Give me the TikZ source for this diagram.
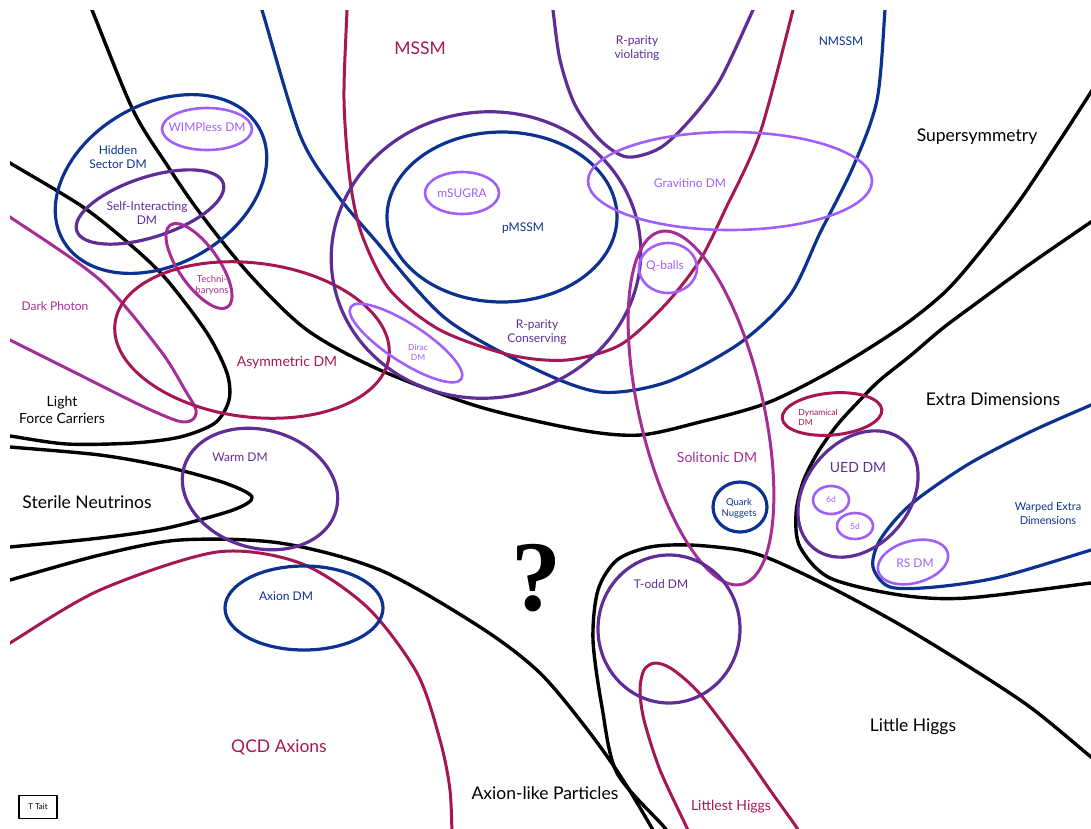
\documentclass[tikz,border=0pt]{standalone}
\usepackage{fontspec}
\setmainfont{Lato}
\newfontfamily\qmarkfont{Liberation Serif}
\definecolor{dmnavy}{RGB}{12,50,145}
\definecolor{dmcrimson}{RGB}{165,22,82}
\definecolor{dmpurple}{RGB}{95,45,150}
\definecolor{dmlilac}{RGB}{160,95,250}
\definecolor{dmorchid}{RGB}{165,45,150}

\begin{document}
\begin{tikzpicture}[
        x=1pt, y=-1pt,
        line join=round,
        border/.style={line width=3.4pt, black},
        navyline/.style={line width=3.2pt, dmnavy},
        crimsonline/.style={line width=3pt, dmcrimson},
        purpleline/.style={line width=3.2pt, dmpurple},
        lilacline/.style={line width=2.6pt, dmlilac},
        orchidline/.style={line width=3pt, dmorchid},
        big/.style={font=\fontsize{17.5}{20}\selectfont, align=center, inner sep=0pt},
        large/.style={font=\fontsize{14}{17}\selectfont, align=center, inner sep=0pt},
        mid/.style={font=\fontsize{12}{14.5}\selectfont, align=center, inner sep=0pt},
        small/.style={font=\fontsize{9.5}{11}\selectfont, align=center, inner sep=0pt},
        tiny/.style={font=\fontsize{8.5}{10}\selectfont, align=center, inner sep=0pt}
    ]
    \useasboundingbox (0,0) rectangle (1091,828);

    % the big theory regions
    \begin{scope}
        \clip (10,10) rectangle (1091,828);
        \draw[border] plot[smooth] coordinates {(85,-5) (92,10) (133,110) (167,165) (200,213) (250,275) (307,330) (380,370) (480,407) (580,430) (640,435) (700,422) (767,403) (833,370) (900,328) (945,292) (980,252) (1020,200) (1060,140) (1091,92) (1100,77)};
        \draw[border] plot[smooth] coordinates {(0,157) (10,163) (83,207) (133,247) (167,280) (207,333) (227,373) (229,400) (215,423) (180,437) (133,443) (67,444) (10,436) (0,435)};
        \draw[border] plot[smooth] coordinates {(0,446) (10,447) (100,455) (167,467) (225,483) (252,497) (233,510) (167,528) (100,538) (10,547) (0,548)};
        \draw[border] plot[smooth] coordinates {(0,583) (10,580) (100,555) (180,540) (280,543) (380,570) (480,627) (540,673) (590,733) (623,780) (653,830) (657,840)};
        \draw[border] plot[smooth] coordinates {(670,840) (665,828) (617,773) (602,707) (593,640) (598,590) (617,560) (650,547) (690,545) (740,550) (773,560) (830,587) (897,623) (963,663) (1030,707) (1091,757) (1100,764)};
        \draw[border] plot[smooth] coordinates {(1100,216) (1091,222) (1030,264) (978,302) (943,328) (910,356) (880,380) (860,400) (838,424) (818,452) (803,482) (796,514) (800,547) (830,578) (900,595) (967,598) (1091,583) (1100,582)};
        \draw[navyline] plot[smooth] coordinates {(1100,401) (1091,405) (1030,432) (967,465) (910,505) (880,540) (873,567) (890,587) (935,587) (1000,577) (1091,550) (1100,547)};
        \draw[navyline] plot[smooth] coordinates {(258,0) (262,10) (300,135) (335,192) (375,240) (445,318) (533,368) (600,392) (667,382) (740,343) (790,295) (820,233) (853,167) (877,100) (885,10) (886,0)};
        \draw[crimsonline] plot[smooth] coordinates {(347,0) (347,10) (344,100) (350,180) (362,235) (390,290) (440,330) (510,355) (567,360) (620,345) (665,305) (700,260) (725,210) (760,133) (793,10) (796,0)};
        \draw[purpleline] plot[smooth] coordinates {(552,0) (553,10) (560,60) (575,105) (600,140) (627,157) (660,148) (690,120) (720,80) (753,10) (757,0)};
        \draw[orchidline] plot[smooth] coordinates {(0,210) (10,217) (100,280) (160,350) (185,390) (196,410) (192,420) (178,421) (140,405) (70,370) (10,340) (0,335)};
        \draw[crimsonline] plot[smooth] coordinates {(0,650) (10,643) (100,590) (217,552) (300,563) (367,607) (417,673) (440,740) (450,790) (452,840)};
        \draw[crimsonline] plot[smooth] coordinates {(692,840) (687,828) (660,770) (644,720) (640,690) (644,670) (655,663) (672,669) (700,694) (740,747) (770,790) (797,828) (803,840)};
    \end{scope}

    % dark matter candidates
    \draw[navyline, rotate around={30:(161,184)}] (161,184) ellipse (113 and 80);
    \draw[lilacline] (207,129) ellipse (45 and 21);
    \draw[purpleline, rotate around={18:(150,207)}] (150,207) ellipse (77 and 30);
    \draw[orchidline, rotate around={-55:(199,266)}] (199,266) ellipse (50 and 20);
    \draw[crimsonline, rotate around={-7:(252,340)}] (252,340) ellipse (138 and 77);
    \draw[purpleline, rotate around={-16:(260,489)}] (260,489) ellipse (79 and 59);
    \draw[navyline] (304,608) ellipse (79 and 42);
    \draw[purpleline, rotate around={8:(486,255)}] (486,255) ellipse (155 and 143);
    \draw[navyline] (502,217) ellipse (115 and 85);
    \draw[lilacline] (462,193) ellipse (37 and 21);
    \draw[lilacline, rotate around={-33:(406,343)}] (406,343) ellipse (66 and 19);
    \draw[lilacline] (730,181) ellipse (142 and 49);
    \draw[lilacline] (668,268) ellipse (29 and 25);
    \draw[orchidline, rotate around={-77:(701,408)}] (701,408) ellipse (181 and 62);
    \draw[navyline] (740,507) ellipse (27 and 25);
    \draw[crimsonline, rotate around={5:(832,414)}] (832,414) ellipse (50 and 21);
    \draw[purpleline, rotate around={50:(858,494)}] (858,494) ellipse (70 and 52);
    \draw[lilacline] (831,500) ellipse (18 and 14);
    \draw[lilacline] (855,526) ellipse (18 and 13);
    \draw[lilacline, rotate around={15:(913,562)}] (913,562) ellipse (36 and 21);
    \draw[purpleline] (669,629) ellipse (71 and 74);

    % labels
    \node[big] (susy) at (977,137) {Supersymmetry};
    \node[big] (xdim) at (993,399) {Extra Dimensions};
    \node[big] (sterile) at (87,502) {Sterile Neutrinos};
    \node[big, text=dmcrimson] (qcd) at (279,747) {QCD Axions};
    \node[big] (alp) at (545,793) {Axion-like Particles};
    \node[big] (lhiggs) at (913,727) {Little Higgs};
    \node[big, text=dmcrimson] (mssm) at (420,48) {MSSM};
    \node[mid, text=dmnavy] (nmssm) at (841,41) {NMSSM};
    \node[mid, text=dmpurple] (rpv) at (637,48) {R-parity\\violating};
    \node[mid, text=dmnavy] (pmssm) at (523,228) {pMSSM};
    \node[mid, text=dmlilac] (msugra) at (462,193) {mSUGRA};
    \node[mid, text=dmpurple] (rpc) at (537,332) {R-parity\\Conserving};
    \node[tiny, text=dmlilac] (dirac) at (418,352) {Dirac\\DM};
    \node[mid, text=dmlilac] (gravitino) at (690,183) {Gravitino DM};
    \node[mid, text=dmlilac] (qballs) at (665,266) {Q-balls};
    \node[large, text=dmorchid] (soliton) at (717,457) {Solitonic DM};
    \node[small, text=dmnavy] (nuggets) at (739,508) {Quark\\Nuggets};
    \node[tiny, text=dmcrimson, align=left] (dynamical) at (818,417) {Dynamical\\DM};
    \node[large, text=dmpurple] (ued) at (858,468) {UED DM};
    \node[tiny, text=dmlilac] (sixd) at (831,499) {6d};
    \node[tiny, text=dmlilac] (fived) at (855,526) {5d};
    \node[mid, text=dmnavy, font=\fontsize{11}{14}\selectfont] (warped) at (1048,513) {Warped Extra\\Dimensions};
    \node[mid, text=dmlilac] (rsdm) at (915,563) {RS DM};
    \node[mid, text=dmnavy] (hidden) at (118,157) {Hidden\\Sector DM};
    \node[mid, text=dmlilac] (wimpless) at (207,127) {WIMPless DM};
    \node[mid, text=dmpurple] (sidm) at (147,213) {Self-Interacting\\DM};
    \node[small, text=dmorchid] (techni) at (212,285) {Techni-\\baryons};
    \node[mid, text=dmorchid] (darkphoton) at (55,306) {Dark Photon};
    \node[large, text=dmcrimson] (asym) at (287,363) {Asymmetric DM};
    \node[large] (lfc) at (62,410) {Light\\Force Carriers};
    \node[mid, text=dmpurple] (warm) at (240,457) {Warm DM};
    \node[mid, text=dmnavy] (axiondm) at (286,596) {Axion DM};
    \node[mid, text=dmpurple] (todd) at (661,584) {T-odd DM};
    \node[large, text=dmcrimson] (littlest) at (731,807) {Littlest Higgs};
    \node[inner sep=0pt, font=\qmarkfont\bfseries\fontsize{100}{100}\selectfont] (qmark) at (536,578) {?};
    \node[draw, line width=1.6pt, minimum width=38pt, minimum height=23pt, inner sep=0pt, font=\fontsize{8}{9}\selectfont] (tait) at (38,807) {T Tait};
\end{tikzpicture}
\end{document}
